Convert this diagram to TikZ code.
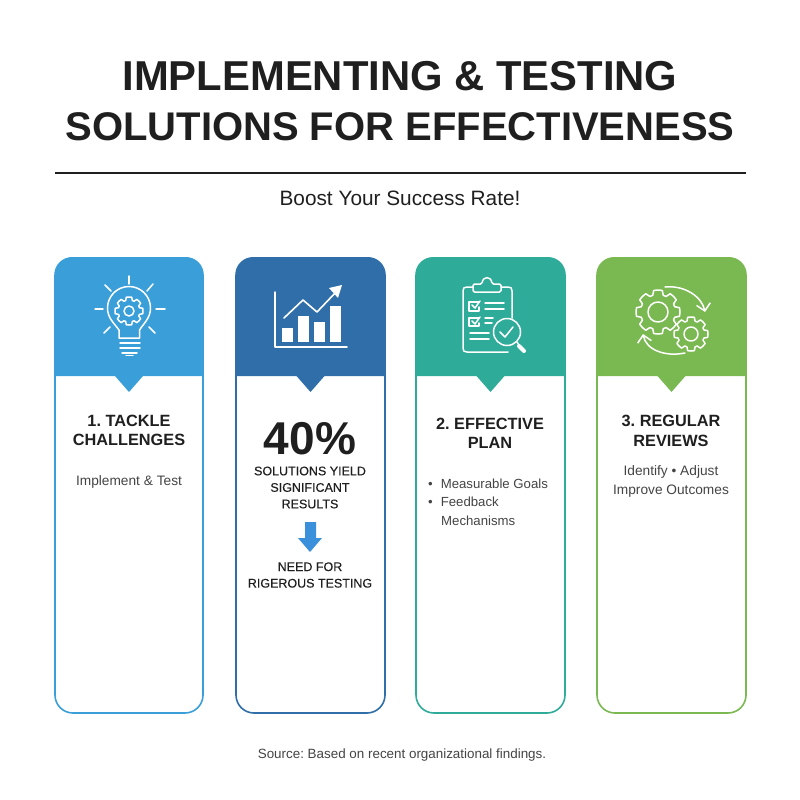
\documentclass[tikz,border=0pt]{standalone}
\usepackage{fontspec}
\setmainfont{Liberation Sans}
\newfontfamily\medfont[FakeBold=0.25]{Liberation Sans}
\usetikzlibrary{arrows.meta}
\definecolor{inkdark}{HTML}{1F1F1F}
\definecolor{inkbody}{HTML}{444444}
\definecolor{skycol}{HTML}{3A9FD8}
\definecolor{navycol}{HTML}{2F6EA8}
\definecolor{tealcol}{HTML}{2FAB9A}
\definecolor{leafcol}{HTML}{7AB851}
\definecolor{downcol}{HTML}{3A90DA}
\tikzset{
    icon/.style = {draw=white, line width=1.5pt, line cap=round, line join=round},
    headtext/.style = {font=\fontsize{16.3}{19.5}\selectfont\bfseries, text=inkdark},
    bodytext/.style = {font=\fontsize{13.7}{19}\selectfont, text=inkbody},
    capstext/.style = {font=\fontsize{12.5}{16.5}\selectfont\medfont, text=inkdark},
    pics/cog/.style n args = {4}{code = {
        \draw[icon] (0:#2) \foreach \i in {1,...,#1} {
            -- ({(\i-1)*360/#1+90/#1}:#2) -- ({(\i-1)*360/#1+140/#1}:#3)
            -- ({(\i-1)*360/#1+220/#1}:#3) -- ({(\i-1)*360/#1+270/#1}:#2)
            -- ({\i*360/#1}:#2)} -- cycle;
        \draw[icon] (0,0) circle[radius=#4];
    }}
}
\begin{document}
\frenchspacing
\begin{tikzpicture}[x=1pt, y=-1pt,
    every node/.style = {inner sep=0pt, align=center}]
    \useasboundingbox (0,0) rectangle (800,800);
    % title block
    \node[font=\fontsize{40}{50}\selectfont\bfseries, text=inkdark] (title) at (400,101)
        {{\fontsize{41.8}{50}\selectfont IMPLEMENTING \& TESTING}\\SOLUTIONS FOR EFFECTIVENESS};
    \coordinate (ruleL) at (55,173);
    \coordinate (ruleR) at (746,173);
    \draw[inkdark, line width=1.8pt] (ruleL) -- (ruleR);
    \node[font=\fontsize{20.8}{24}\selectfont, text=inkdark] (subtitle) at (400,198) {Boost Your Success Rate!};
    % cards
    \foreach \cardx/\cardw/\cardcol in {55/148/skycol, 236/149/navycol, 416/149/tealcol, 597/149/leafcol} {
        \draw[\cardcol, line width=1.6pt, rounded corners=18pt]
            (\cardx,300) rectangle (\cardx+\cardw,713);
        \fill[\cardcol] (\cardx-0.8,376) [rounded corners=18pt] -- (\cardx-0.8,257)
            -- (\cardx+\cardw+0.8,257) [sharp corners] -- (\cardx+\cardw+0.8,376)
            -- (\cardx+\cardw/2+14,376) -- (\cardx+\cardw/2,392) -- (\cardx+\cardw/2-14,376) -- cycle;
    }
    % bulb
    \draw[icon] (119,338) -- (119,330) .. controls (114,323) and (107.5,318) .. (107.5,308)
        arc[start angle=180, end angle=360, radius=21.5]
        .. controls (150.5,318) and (144,323) .. (139.5,330) -- (139.5,338) -- cycle;
    \pic at (129,311) {cog={8}{14}{11}{5}};
    \foreach \ax/\ay/\bx/\by in {129/276/129/284, 105/285/111/291, 153/284/147/291, 95/309/103/309,
        156/309/165/309, 104/333/110/327, 155/333/149/327, 120/343/140/343, 120/348/140/348,
        122/353/137/353, 126/355.5/133/355.5}
        \draw[icon] (\ax,\ay) -- (\bx,\by);
    % chart
    \draw[icon] (275,292) -- (275,347) -- (347,347);
    \foreach \barx/\bary in {282/328, 298/316, 314/322, 330/306}
        \fill[white] (\barx,\bary) rectangle (\barx+11,342);
    \draw[icon, line width=1.6pt] (284,318) -- (303,300) -- (317,312) -- (337,291);
    \fill[white] (342,285) -- (338,298) -- (329,288) -- cycle;
    % clipboard
    \draw[icon] (473,287) -- (467,287) .. controls (464,287) and (463,288) .. (463,291) -- (463,348)
        .. controls (463,351) and (464,352) .. (467,352) -- (508,352);
    \draw[icon] (501,287) -- (508,287) .. controls (511,287) and (512,288) .. (512,291) -- (512,318);
    \draw[icon, rounded corners=1.5pt] (473,292) -- (473,284) -- (482,284)
        .. controls (483,276) and (491,276) .. (492,284) -- (501,284) -- (501,292) -- cycle;
    \draw[icon] (479,302) -- (469,302) -- (469,311) -- (479,311) -- (479,307);
    \draw[icon] (472,305) -- (475,308) -- (480,301);
    \draw[icon] (479,318) -- (469,318) -- (469,326) -- (479,326) -- (479,323);
    \draw[icon] (472,321) -- (475,324) -- (480,317);
    \foreach \ax/\bx/\ay in {485/504/303, 485/504/309, 485/493/318, 485/492/323, 470/489/333, 470/489/339}
        \draw[icon] (\ax,\ay) -- (\bx,\ay);
    \draw[icon] (507,332) circle[radius=13.5];
    \draw[icon] (500,332) -- (505,337) -- (513,327);
    \draw[icon] (517,342) -- (519,345);
    \draw[icon, line width=4pt] (519,346) -- (524,351);
    % gears
    \pic at (658,312) {cog={8}{22}{17.5}{10}};
    \pic at (691,334) {cog={8}{17}{13.5}{7}};
    \draw[icon, -{Straight Barb[length=7pt, width=14pt]}] (665,287) .. controls (685,285) and (702,297) .. (705,312);
    \draw[icon, -{Straight Barb[length=7pt, width=14pt]}] (685,353) .. controls (665,357) and (646,350) .. (643,334);
    % card texts
    \node[headtext] (tackle) at (129,430.5) {1. TACKLE\\CHALLENGES};
    \node[bodytext] (implement) at (129,482) {Implement \& Test};
    \node[font=\fontsize{46}{50}\selectfont\bfseries, text=inkdark] (percent) at (310,439) {40\%};
    \node[capstext] (yield) at (310,487.5) {SOLUTIONS YIELD\\SIGNIFICANT\\RESULTS};
    \fill[downcol] (305,522) -- (316,522) -- (316,538) -- (322,538) -- (310,552) -- (298,538) -- (305,538) -- cycle;
    \node[capstext] (rigor) at (310,575) {NEED FOR\\RIGEROUS TESTING};
    \node[headtext] (plan) at (490,433.5) {2. EFFECTIVE\\PLAN};
    \node[bodytext, font=\fontsize{13.2}{18.7}\selectfont, align=left, anchor=north west] (goals) at (428,478.5)
        {•\hspace{8pt}Measurable Goals\\•\hspace{8pt}Feedback\\\hspace{13pt}Mechanisms};
    \node[headtext] (reviews) at (671,431) {3. REGULAR\\REVIEWS};
    \node[bodytext] (improve) at (671,481.5) {Identify • Adjust\\Improve Outcomes};
    % source
    \node[font=\fontsize{13.4}{17}\selectfont, text=inkbody] (source) at (402,755) {Source: Based on recent organizational findings.};
\end{tikzpicture}
\end{document}
